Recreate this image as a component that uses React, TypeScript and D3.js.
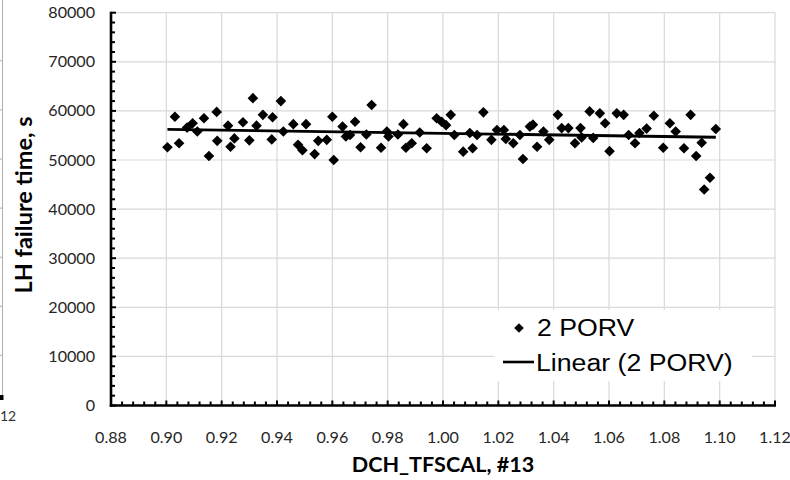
import React from 'react';
import * as d3 from 'd3';

const xValues = [
  0.9004, 0.9031, 0.9046, 0.9075, 0.9095, 0.9112, 0.9136, 0.9154, 0.9182, 0.9184,
  0.9223, 0.9232, 0.9246, 0.9277, 0.93, 0.9313, 0.9326, 0.9349, 0.9381, 0.9384,
  0.9414, 0.9423, 0.9459, 0.9476, 0.9492, 0.9505, 0.9536, 0.9549, 0.958, 0.96,
  0.9605, 0.9637, 0.9649, 0.9664, 0.9682, 0.9702, 0.9723, 0.9742, 0.9776, 0.9797,
  0.9803, 0.9837, 0.9857, 0.9866, 0.9887, 0.9916, 0.9941, 0.9977, 0.9995, 1.0011,
  1.0028, 1.0041, 1.0073, 1.0097, 1.0107, 1.0123, 1.0146, 1.0175, 1.0195, 1.022,
  1.0227, 1.0254, 1.0278, 1.0289, 1.0314, 1.0325, 1.034, 1.0363, 1.0384, 1.0415,
  1.0429, 1.0453, 1.0477, 1.0497, 1.0501, 1.053, 1.0543, 1.0567, 1.0586, 1.0602,
  1.0628, 1.0653, 1.0671, 1.0694, 1.071, 1.0736, 1.0762, 1.0796, 1.082, 1.0841,
  1.0871, 1.0895, 1.0915, 1.0935, 1.0944, 1.0965, 1.0986,
];

const yValues = [
  52600, 58800, 53400, 56600, 57500, 55800, 58500, 50800, 59800, 53900,
  57000, 52700, 54400, 57700, 54000, 62600, 57000, 59200, 54200, 58700,
  62000, 55800, 57300, 53100, 52000, 57300, 51200, 53900, 54100, 58800,
  50000, 56800, 54800, 55100, 57800, 52600, 55200, 61200, 52500, 55800,
  54800, 55200, 57300, 52500, 53400, 55600, 52400, 58500, 57800, 57100,
  59200, 55100, 51700, 55500, 52400, 55100, 59700, 54100, 56100, 56100,
  54300, 53400, 55100, 50200, 56800, 57200, 52700, 55800, 54100, 59200,
  56500, 56500, 53400, 56500, 54600, 59900, 54500, 59500, 57500, 51800,
  59500, 59200, 55100, 53400, 55500, 56400, 59000, 52500, 57500, 55800,
  52400, 59200, 50800, 53500, 44000, 46400, 56300,
];

const xTicks = [0.88, 0.9, 0.92, 0.94, 0.96, 0.98, 1.0, 1.02, 1.04, 1.06, 1.08, 1.1, 1.12];
const yTicks = [0, 10000, 20000, 30000, 40000, 50000, 60000, 70000, 80000];
const seriesName = '2 PORV';
const trendName = 'Linear (2 PORV)';
const xTitle = 'DCH_TFSCAL, #13';
const yTitle = 'LH failure time, s';

const W = 790;
const H = 480;

export default function App() {
  const x = d3.scaleLinear().domain([0.88, 1.12]).range([111, 775]);
  const y = d3.scaleLinear().domain([0, 80000]).range([405.5, 12.7]);

  const xMinor = d3.range(0, 61).map((i) => 0.88 + i * 0.004);
  const yMinor = d3.range(0, 41).map((i) => i * 2000);

  // least-squares trend line
  const mx = d3.mean(xValues) as number;
  const my = d3.mean(yValues) as number;
  let sxy = 0;
  let sxx = 0;
  xValues.forEach((xv, i) => {
    sxy += (xv - mx) * (yValues[i] - my);
    sxx += (xv - mx) * (xv - mx);
  });
  const slope = sxy / sxx;
  const icpt = my - slope * mx;
  const xMin = d3.min(xValues) as number;
  const xMax = d3.max(xValues) as number;
  const trend = d3.line<number>()
    .x((d) => x(d))
    .y((d) => y(icpt + slope * d))([xMin, xMax]) as string;

  const diamond = (r: number) => `M0,${-r}L${r},0L0,${r}L${-r},0Z`;
  const lato = 'Lato, "Open Sans", sans-serif';
  const arial = '"Liberation Sans", Arial, sans-serif';
  const sx = 1.04;

  return (
    <svg width={W} height={H} style={{ position: 'absolute', left: 0, top: 0, background: '#fff' }}>
      <rect x={0} y={0} width={W} height={H} fill="#fff" />

      {/* sliver of neighbouring chart */}
      <line x1={2.5} x2={2.5} y1={0} y2={397} stroke="#b0b0b0" strokeWidth={1} />
      {yTicks.slice(1, 8).map((t) => (
        <line key={'s' + t} x1={0} x2={2.5} y1={y(t) - 1} y2={y(t) - 1} stroke="#b0b0b0" strokeWidth={1} />
      ))}
      <rect x={0} y={395} width={3.5} height={5} fill="#000" />
      <text x={0} y={421} fontFamily={lato} fontSize={14} fill="#333">12</text>

      {/* gridlines */}
      {xTicks.slice(1).map((t) => (
        <line key={'gx' + t} x1={x(t)} x2={x(t)} y1={y(80000)} y2={y(0)} stroke="#d9d9d9" strokeWidth={1.2} />
      ))}
      {yTicks.slice(1).map((t) => (
        <line key={'gy' + t} x1={x(0.88)} x2={x(1.12)} y1={y(t)} y2={y(t)} stroke="#d9d9d9" strokeWidth={1.2} />
      ))}

      {/* axes */}
      <line x1={x(0.88)} x2={x(0.88)} y1={y(80000) - 1} y2={y(0) + 1.2} stroke="#000" strokeWidth={2.6} />
      <line x1={x(0.88) - 1.2} x2={x(1.12) + 1} y1={y(0)} y2={y(0)} stroke="#000" strokeWidth={2.6} />
      {xMinor.map((t, i) => (
        <line key={'xm' + i} x1={x(t)} x2={x(t)} y1={y(0)} y2={y(0) - (i % 5 === 0 ? 5 : 4)} stroke="#000" strokeWidth={2} />
      ))}
      {yMinor.map((t, i) => (
        <line key={'ym' + i} x1={x(0.88)} x2={x(0.88) + (i % 5 === 0 ? 5 : 4)} y1={y(t)} y2={y(t)} stroke="#000" strokeWidth={2} />
      ))}

      {/* tick labels */}
      {xTicks.map((t) => (
        <text key={'xl' + t} transform={`translate(${x(t)},${443}) scale(${sx},1)`} textAnchor="middle"
          fontFamily={lato} fontSize={15.5} fill="#262626">{t.toFixed(2)}</text>
      ))}
      {yTicks.map((t) => (
        <text key={'yl' + t} transform={`translate(${95},${y(t) + 5.5}) scale(${sx},1)`} textAnchor="end"
          fontFamily={lato} fontSize={15.5} fill="#262626">{t}</text>
      ))}

      {/* titles */}
      <text transform={`translate(443,472) scale(1.08,1)`} textAnchor="middle" fontFamily={lato} fontWeight="bold"
        fontSize={20} fill="#000">{xTitle}</text>
      <text transform={`translate(32,205) rotate(-90)`} textAnchor="middle" fontFamily={lato} fontWeight="bold"
        fontSize={23.5} fill="#000">{yTitle}</text>

      {/* data */}
      {xValues.map((xv, i) => (
        <path key={'p' + i} d={diamond(5.3)} transform={`translate(${x(xv)},${y(yValues[i])})`} fill="#000" />
      ))}
      <path d={trend} stroke="#000" strokeWidth={2.8} fill="none" />

      {/* legend */}
      <rect x={494} y={310} width={258} height={71} fill="#fff" />
      <path d={diamond(4.8)} transform="translate(519,328)" fill="#000" />
      <text transform="translate(537,336) scale(1.16,1)" fontFamily={arial} fontSize={23} fill="#000">{seriesName}</text>
      <line x1={503} x2={534} y1={362} y2={362} stroke="#000" strokeWidth={2.6} />
      <text transform="translate(536,371) scale(1.16,1)" fontFamily={arial} fontSize={23} fill="#000">{trendName}</text>
    </svg>
  );
}
